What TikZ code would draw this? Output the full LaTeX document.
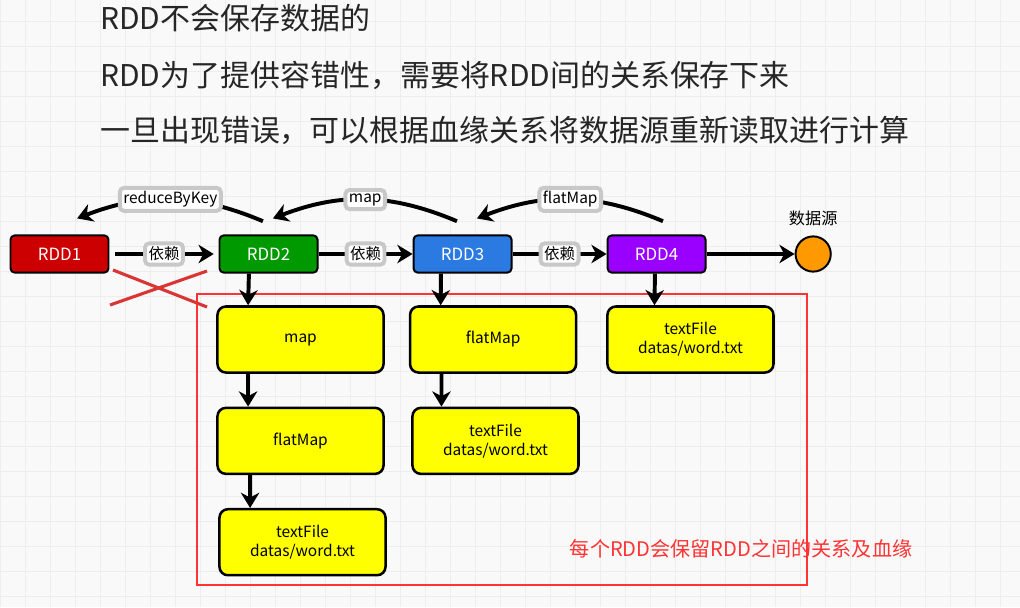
\documentclass[tikz,border=0pt]{standalone}
\usepackage{fontspec}
\setmainfont{Noto Sans CJK SC}
\usetikzlibrary{arrows.meta,positioning}
\definecolor{bgcol}{HTML}{F9F9F9}
\definecolor{gridcol}{HTML}{EDEDED}
\definecolor{rddred}{HTML}{CC0000}
\definecolor{rddgreen}{HTML}{009900}
\definecolor{rddblue}{HTML}{2A7AE2}
\definecolor{rddpurple}{HTML}{9900FF}
\definecolor{srcorange}{HTML}{FF9900}
\definecolor{opyellow}{HTML}{FFFF00}
\definecolor{notered}{HTML}{FF3333}
\definecolor{crossred}{HTML}{D93535}
\definecolor{lblgray}{HTML}{C8C8C8}
\tikzset{
  rdd/.style={draw=black, line width=1.4pt, rounded corners=3pt, minimum width=2.45cm, minimum height=0.93cm, text=white, font=\fontsize{12}{14}\selectfont},
  op/.style={draw=black, fill=opyellow, line width=1.8pt, rounded corners=6pt, minimum width=4.15cm, minimum height=1.65cm, align=center, font=\fontsize{11}{13.5}\selectfont},
  lbl/.style={draw=lblgray, fill=white, rounded corners=3pt, inner sep=2.5pt, font=\fontsize{11}{13}\selectfont},
  hdr/.style={anchor=west, inner sep=0pt, font=\fontsize{21.3}{24}\selectfont, text=black!85},
  arr/.style={-{Stealth[length=3.8mm,width=4.6mm,inset=1.2mm]}, line width=2.8pt},
  frame/.style={draw=notered, line width=1.9pt},
  cross/.style={draw=crossred, line width=2.2pt},
}

\begin{document}
\begin{tikzpicture}[x=0.025cm, y=-0.025cm]
\useasboundingbox (0,0) rectangle (1020,607);
\fill[bgcol] (0,0) rectangle (1020,607);
\foreach \gx in {0,25,...,1000} \draw[gridcol, line width=0.7pt] (\gx,0) -- (\gx,607);
\foreach \gy in {21.7,46.7,...,600} \draw[gridcol, line width=0.7pt] (0,\gy) -- (1020,\gy);

\node[hdr] (t1) at (100,18) {RDD不会保存数据的};
\node[hdr] (t2) at (100,75) {RDD为了提供容错性，需要将RDD间的关系保存下来};
\node[hdr] (t3) at (100,130) {一旦出现错误，可以根据血缘关系将数据源重新读取进行计算};

\node[rdd, fill=rddred] (rdd1) at (59.5,254) {RDD1};
\node[rdd, fill=rddgreen, right=2.725cm of rdd1] (rdd2) {RDD2};
\node[rdd, fill=rddblue, right=2.35cm of rdd2] (rdd3) {RDD3};
\node[rdd, fill=rddpurple, right=2.35cm of rdd3] (rdd4) {RDD4};
\node[draw=black, line width=1.4pt, circle, fill=srcorange, minimum size=0.88cm, right=2.2cm of rdd4] (src) {};
\node[above=0.12cm of src, font=\fontsize{11.5}{13}\selectfont] (srclbl) {数据源};

\node[op] (map) at (300.5,339.5) {map};
\node[op, below=0.82cm of map] (fm1) {flatMap};
\node[op, below=0.82cm of fm1, xshift=0.05cm] (tf1) {textFile\\datas/word.txt};
\node[op, right=0.6cm of map] (fm2) {flatMap};
\node[op, below=0.82cm of fm2, xshift=0.06cm] (tf2) {textFile\\datas/word.txt};
\node[op, right=0.72cm of fm2] (tf3) {textFile\\datas/word.txt};

\draw[frame] (197,294) rectangle (807,585);
\node[anchor=west, text=notered, font=\fontsize{14.3}{16}\selectfont] (note) at (565,549) {每个RDD会保留RDD之间的关系及血缘};

\draw[cross] (113,270) -- (207,307);
\draw[cross] (110,305) -- (207,271);

\draw[arr, shorten <=0.15cm, shorten >=0.12cm] (rdd1) -- node[lbl] {依赖} (rdd2);
\draw[arr] (rdd2) -- node[lbl] {依赖} (rdd3);
\draw[arr] (rdd3) -- node[lbl] {依赖} (rdd4);
\draw[arr] (rdd4) -- (src);

\draw[arr] ([shift={(-0.14cm,0.33cm)}]rdd2.north) to[bend right=22] node[lbl] {reduceByKey} ([shift={(0.44cm,0.4cm)}]rdd1.north);
\draw[arr] ([shift={(-0.14cm,0.33cm)}]rdd3.north) to[bend right=22] node[lbl] {map} ([shift={(0.11cm,0.4cm)}]rdd2.north);
\draw[arr] ([shift={(0.16cm,0.33cm)}]rdd4.north) to[bend right=22] node[lbl] {flatMap} ([shift={(0.36cm,0.4cm)}]rdd3.north);

\draw[arr] ([xshift=-0.49cm]rdd2.south) -- ([xshift=-1.31cm]map.north);
\draw[arr] ([xshift=-1.31cm]map.south) -- ([xshift=-1.31cm]fm1.north);
\draw[arr] ([xshift=-1.26cm]fm1.south) -- ([xshift=-1.31cm]tf1.north);
\draw[arr] ([xshift=-0.54cm]rdd3.south) -- ([xshift=-1.31cm]fm2.north);
\draw[arr] ([xshift=-1.29cm]fm2.south) -- ([xshift=-1.35cm]tf2.north);
\draw[arr] ([xshift=-0.04cm]rdd4.south) -- ([xshift=-0.9cm]tf3.north);
\end{tikzpicture}
\end{document}
